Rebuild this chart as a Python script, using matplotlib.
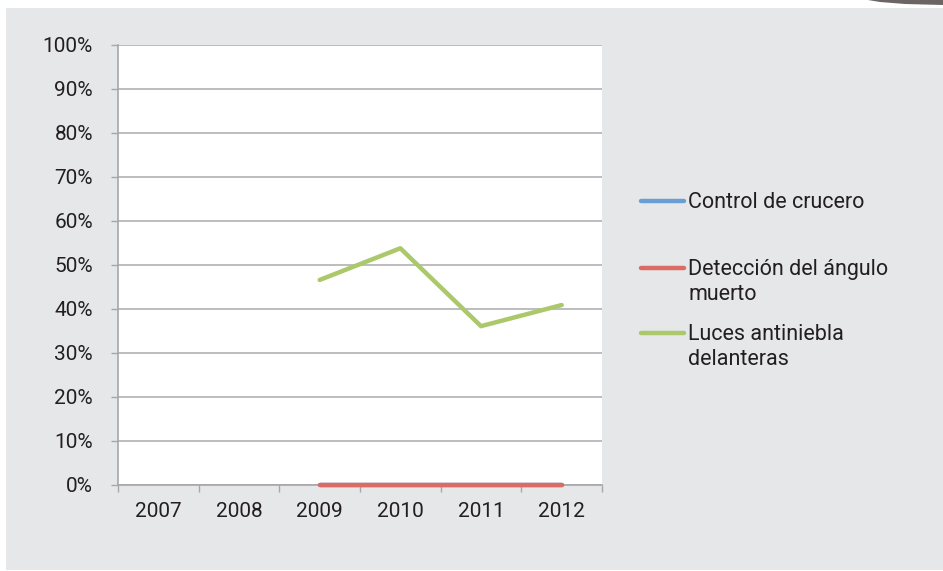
import matplotlib
matplotlib.use("Agg")
import matplotlib.pyplot as plt
import numpy as np
from matplotlib.patches import Rectangle, Polygon
from matplotlib.lines import Line2D
from matplotlib import font_manager as fm

years = ["2007", "2008", "2009", "2010", "2011", "2012"]
control_crucero = [np.nan, np.nan, 0.0, 0.0, 0.0, 0.0]
deteccion_angulo = [np.nan, np.nan, 0.0, 0.0, 0.0, 0.0]
luces_antiniebla = [np.nan, np.nan, 46.6, 53.8, 36.1, 40.9]
y_ticks = [0, 10, 20, 30, 40, 50, 60, 70, 80, 90, 100]

series_labels = ["Control de crucero", "Detección del ángulo\nmuerto", "Luces antiniebla\ndelanteras"]
colors = ["#6a9fd6", "#dc6b63", "#abc86a"]

names = {f.name for f in fm.fontManager.ttflist}
font = "Roboto" if "Roboto" in names else "DejaVu Sans"
txt_color = "#231f20"

W, H = 943, 571
fig = plt.figure(figsize=(W / 100, H / 100), dpi=100)
fig.patch.set_facecolor("white")
# gray panel
fig.add_artist(Rectangle((6 / W, 1 / H), 1 - 6 / W, (570 - 8) / H,
                         transform=fig.transFigure, facecolor="#e6e7e8",
                         edgecolor="none", zorder=0))
# small dark swoosh at top-right (image fragment)
fig.add_artist(Polygon([(868 / W, 1.0), (943 / W, 1.0), (943 / W, 1 - 5 / H),
                        (905 / W, 1 - 4 / H), (880 / W, 1 - 2 / H)],
                       closed=True, transform=fig.transFigure, facecolor="#6b6664",
                       edgecolor="none", zorder=1))

ax = fig.add_axes([118 / W, 1 - 485 / H, (602 - 118) / W, (485 - 45) / H])
ax.set_facecolor("white")
x = np.arange(len(years))

all_series = [control_crucero, deteccion_angulo, luces_antiniebla]
for vals, lab, c in zip(all_series, series_labels, colors):
    ax.plot(x, vals, color=c, lw=3.2, solid_capstyle="round", label=lab, zorder=3, clip_on=False)

ax.set_xlim(-0.5, len(years) - 0.5)
ax.set_ylim(0, 100)
ax.set_yticks(y_ticks)
ax.set_yticklabels([f"{v}%" for v in y_ticks], fontsize=15, family=font, color=txt_color)
ax.set_xticks(x)
ax.set_xticklabels(years, fontsize=15, family=font, color=txt_color)
ax.set_xticks(np.arange(len(years) + 1) - 0.5, minor=True)
ax.tick_params(axis="x", which="major", length=0, pad=12)
ax.tick_params(axis="x", which="minor", length=5, width=1, color="#a7a7ab")
ax.tick_params(axis="y", which="major", length=5, width=1, color="#a7a7ab", pad=13)
ax.yaxis.grid(True, color="#b2b2b6", lw=1.2, zorder=1)
ax.set_axisbelow(True)
for s in ["top", "right"]:
    ax.spines[s].set_visible(False)
for s in ["left", "bottom"]:
    ax.spines[s].set_color("#a7a7ab")
    ax.spines[s].set_linewidth(1.2)

# legend (handles aligned with first text line, as in the reference)
leg_y = [201, 268, 333]
for lab, c, yy in zip(series_labels, colors, leg_y):
    fy = 1 - yy / H
    fig.add_artist(Line2D([641 / W, 684 / W], [fy, fy], transform=fig.transFigure,
                          color=c, lw=3.2, solid_capstyle="round"))
    fig.text(688 / W, 1 - (yy - 9) / H, lab, ha="left", va="top", fontsize=15.5,
             family=font, color=txt_color, linespacing=1.22)

fig.savefig("out.png", dpi=100, facecolor=fig.get_facecolor())
